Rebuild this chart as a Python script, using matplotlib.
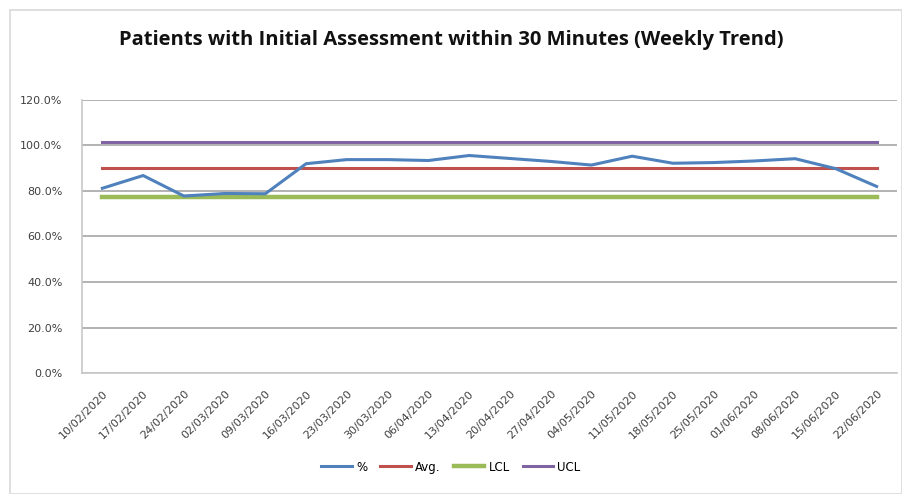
import matplotlib
matplotlib.use("Agg")
import matplotlib.pyplot as plt
from matplotlib.ticker import FuncFormatter
from matplotlib.patches import Rectangle

weeks = ["10/02/2020", "17/02/2020", "24/02/2020", "02/03/2020", "09/03/2020",
         "16/03/2020", "23/03/2020", "30/03/2020", "06/04/2020", "13/04/2020",
         "20/04/2020", "27/04/2020", "04/05/2020", "11/05/2020", "18/05/2020",
         "25/05/2020", "01/06/2020", "08/06/2020", "15/06/2020", "22/06/2020"]
pct = [81.2, 86.8, 77.8, 78.9, 78.8, 92.0, 93.8, 93.8, 93.4, 95.6,
       94.3, 93.0, 91.4, 95.3, 92.2, 92.5, 93.2, 94.2, 89.8, 82.0]
avg_val = 90.0
lcl_val = 77.2
ucl_val = 101.6

avg = [avg_val] * len(weeks)
lcl = [lcl_val] * len(weeks)
ucl = [ucl_val] * len(weeks)

fig = plt.figure(figsize=(9.02, 4.94), dpi=100)
fig.patches.append(Rectangle((10/902, 0), 1 - 10/902, 1 - 10/494, transform=fig.transFigure,
                             fill=False, edgecolor="#d9d9d9", linewidth=1.2))
ax = fig.add_axes([82/902, (494-373)/494, 815/902, 273/494])

x = list(range(len(weeks)))
lw = 2.2
ax.plot(x, pct, color="#4F81BD", lw=lw, label="%", zorder=5)
ax.plot(x, avg, color="#C0504D", lw=lw, label="Avg.", zorder=4)
ax.plot(x, lcl, color="#9BBB59", lw=lw + 1, label="LCL", zorder=3)
ax.plot(x, ucl, color="#8064A2", lw=lw, label="UCL", zorder=4)

ax.set_xlim(-0.5, len(weeks) - 0.5)
ax.set_ylim(0, 120)
ax.set_yticks([0, 20, 40, 60, 80, 100, 120])
ax.yaxis.set_major_formatter(FuncFormatter(lambda v, p: f"{v:.1f}%"))
ax.grid(axis="y", color="#a6a6a6", lw=1.2)
ax.set_axisbelow(True)
for s in ["top", "right"]:
    ax.spines[s].set_visible(False)
ax.spines["left"].set_color("#c8c8c8")
ax.spines["left"].set_linewidth(1.2)
ax.spines["bottom"].set_color("#c8c8c8")
ax.spines["bottom"].set_linewidth(1.2)
ax.tick_params(axis="y", length=0, labelsize=8, pad=14, colors="#404040")
ax.tick_params(axis="x", length=0, labelsize=8, colors="#404040", pad=11)
ax.set_xticks(x)
ax.set_xticklabels(weeks, rotation=45, ha="right", rotation_mode="anchor")

fig.text(0.5, 1 - 40/494, "Patients with Initial Assessment within 30 Minutes (Weekly Trend)",
         ha="center", va="center", fontsize=14.5, family="Open Sans", weight="bold",
         color="#111111")

fig.legend(loc="center", bbox_to_anchor=(0.5, 1 - 467/494), ncol=4, frameon=False,
           fontsize=8.5, handlelength=2.6, columnspacing=1.1, handletextpad=0.35)

fig.savefig("out.png", dpi=100)
